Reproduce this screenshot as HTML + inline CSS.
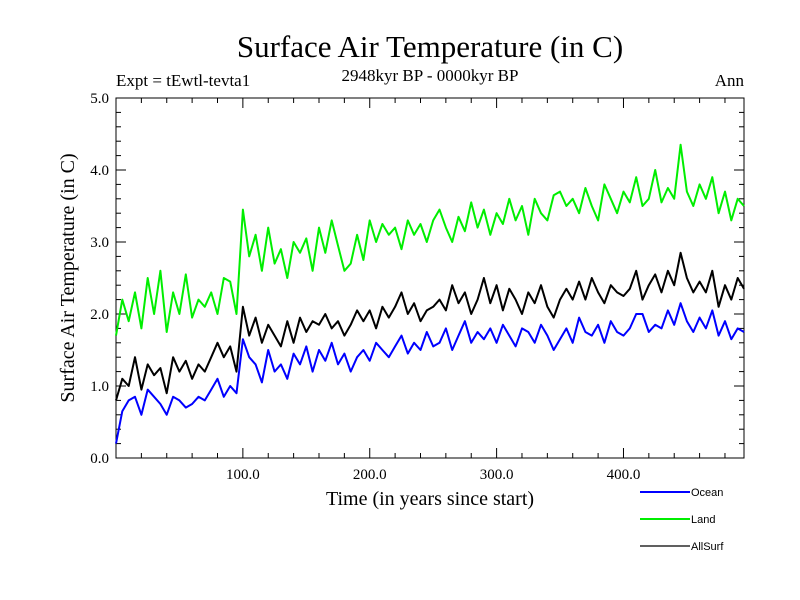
<!DOCTYPE html>
<html><head><meta charset="utf-8"><style>
body{margin:0;background:#fff;}
svg{display:block;font-family:"Liberation Serif",serif;}
</style></head><body>
<svg id="chart" width="800" height="600">
<text x="430" y="57" font-size="31" text-anchor="middle">Surface Air Temperature (in C)</text>
<text x="116" y="86" font-size="17">Expt = tEwtl-tevta1</text>
<text x="430" y="81" font-size="17" text-anchor="middle">2948kyr BP - 0000kyr BP</text>
<text x="744" y="86" font-size="17" text-anchor="end">Ann</text>
<text x="430" y="505" font-size="20" text-anchor="middle">Time (in years since start)</text>
<text transform="translate(74,278) rotate(-90)" font-size="20" text-anchor="middle">Surface Air Temperature (in C)</text>
<g id="axes"></g>
<g id="series"></g>
<g id="legend" font-family="Liberation Sans, sans-serif" font-size="11"></g>
</svg>
<script>
const years=[0,5,10,15,20,25,30,35,40,45,50,55,60,65,70,75,80,85,90,95,100,105,110,115,120,125,130,135,140,145,150,155,160,165,170,175,180,185,190,195,200,205,210,215,220,225,230,235,240,245,250,255,260,265,270,275,280,285,290,295,300,305,310,315,320,325,330,335,340,345,350,355,360,365,370,375,380,385,390,395,400,405,410,415,420,425,430,435,440,445,450,455,460,465,470,475,480,485,490,495];
const ocean=[0.2,0.65,0.8,0.85,0.6,0.95,0.85,0.75,0.6,0.85,0.8,0.7,0.75,0.85,0.8,0.95,1.1,0.85,1.0,0.9,1.65,1.4,1.3,1.05,1.5,1.2,1.3,1.1,1.45,1.3,1.55,1.2,1.5,1.35,1.6,1.3,1.45,1.2,1.4,1.5,1.35,1.6,1.5,1.4,1.55,1.7,1.45,1.6,1.5,1.75,1.55,1.6,1.8,1.5,1.7,1.9,1.6,1.75,1.65,1.8,1.6,1.85,1.7,1.55,1.8,1.75,1.6,1.85,1.7,1.5,1.65,1.8,1.6,1.95,1.75,1.7,1.85,1.6,1.9,1.75,1.7,1.8,2.0,2.0,1.75,1.85,1.8,2.05,1.85,2.15,1.9,1.75,1.95,1.8,2.05,1.7,1.9,1.65,1.8,1.75];
const land=[1.7,2.2,1.9,2.3,1.8,2.5,2.0,2.6,1.75,2.3,2.0,2.55,1.95,2.2,2.1,2.3,2.0,2.5,2.45,2.0,3.45,2.8,3.1,2.6,3.2,2.7,2.9,2.5,3.0,2.85,3.05,2.6,3.2,2.85,3.3,2.95,2.6,2.7,3.1,2.75,3.3,3.0,3.25,3.1,3.2,2.9,3.3,3.1,3.25,3.0,3.3,3.45,3.2,3.0,3.35,3.15,3.55,3.2,3.45,3.1,3.4,3.25,3.6,3.3,3.5,3.1,3.6,3.4,3.3,3.65,3.7,3.5,3.6,3.4,3.75,3.5,3.3,3.8,3.6,3.4,3.7,3.55,3.9,3.5,3.6,4.0,3.55,3.75,3.6,4.35,3.7,3.5,3.8,3.6,3.9,3.4,3.7,3.3,3.6,3.5];
const allsurf=[0.8,1.1,1.0,1.4,0.95,1.3,1.15,1.25,0.9,1.4,1.2,1.35,1.1,1.3,1.2,1.4,1.6,1.4,1.55,1.2,2.1,1.7,1.95,1.6,1.85,1.7,1.55,1.9,1.6,1.95,1.75,1.9,1.85,2.0,1.8,1.9,1.7,1.85,2.05,1.9,2.05,1.8,2.1,1.95,2.1,2.3,2.0,2.15,1.9,2.05,2.1,2.2,2.05,2.4,2.15,2.3,2.0,2.2,2.5,2.15,2.4,2.05,2.35,2.2,2.0,2.3,2.15,2.4,2.1,1.95,2.2,2.35,2.2,2.45,2.2,2.5,2.3,2.15,2.4,2.3,2.25,2.35,2.6,2.2,2.4,2.55,2.3,2.6,2.4,2.85,2.5,2.3,2.45,2.3,2.6,2.1,2.4,2.2,2.5,2.35];
const xTicks=[100,200,300,400];
const xTickLabels=["100.0","200.0","300.0","400.0"];
const yTicks=[0,1,2,3,4,5];
const yTickLabels=["0.0","1.0","2.0","3.0","4.0","5.0"];
const seriesNames=["Ocean","Land","AllSurf"];
const seriesColors=["#0000ff","#00ee00","#000000"];

const X0=116,X1=744,Y0=458,Y1=98,XMIN=0,XMAX=495,YMIN=0,YMAX=5;
const sx=v=>X0+(v-XMIN)/(XMAX-XMIN)*(X1-X0);
const sy=v=>Y0-(v-YMIN)/(YMAX-YMIN)*(Y0-Y1);
const NS="http://www.w3.org/2000/svg";
function mk(tag,attrs,parent){const e=document.createElementNS(NS,tag);for(const k in attrs)e.setAttribute(k,attrs[k]);parent.appendChild(e);return e;}
const axes=document.getElementById('axes');
const frame=mk('rect',{x:X0,y:Y1,width:X1-X0,height:Y0-Y1,fill:'none',stroke:'#000','stroke-width':1},axes);


for(let v=20;v<XMAX;v+=20){
  const major=v%100===0;const L=major?10:5;
  mk('line',{x1:sx(v),x2:sx(v),y1:Y0,y2:Y0-L,stroke:'#000'},axes);
  mk('line',{x1:sx(v),x2:sx(v),y1:Y1,y2:Y1+L,stroke:'#000'},axes);
}
xTicks.forEach((v,i)=>{
  const t=mk('text',{x:sx(v),y:Y0+21,'font-size':15,'text-anchor':'middle'},axes);t.textContent=xTickLabels[i];
  
  
});
for(let v=0.2;v<YMAX;v+=0.2){
  const major=Math.abs(v-Math.round(v))<1e-6;const L=major?10:5;
  mk('line',{x1:X0,x2:X0+L,y1:sy(v),y2:sy(v),stroke:'#000'},axes);
  mk('line',{x1:X1,x2:X1-L,y1:sy(v),y2:sy(v),stroke:'#000'},axes);
}
yTicks.forEach((v,i)=>{
  const t=mk('text',{x:X0-7,y:sy(v)+5,'font-size':15,'text-anchor':'end'},axes);t.textContent=yTickLabels[i];
  
  
});
const sg=document.getElementById('series');
[ocean,land,allsurf].forEach((arr,i)=>{
  const d=arr.map((v,j)=>(j?'L':'M')+sx(years[j]).toFixed(1)+','+sy(v).toFixed(1)).join('');
  const p=mk('path',{d:d,fill:'none',stroke:seriesColors[i],'stroke-width':2,'stroke-linejoin':'round'},sg);
  
  
});
const lg=document.getElementById('legend');
seriesNames.forEach((n,i)=>{
  const y=492+i*27;
  const g=mk('g',{},lg);
  
  
  mk('line',{x1:640,x2:690,y1:y,y2:y,stroke:seriesColors[i],'stroke-width':i===2?1.3:2},g);
  const t=mk('text',{x:691,y:y+4},g);t.textContent=n;
});
</script>
</body></html>
